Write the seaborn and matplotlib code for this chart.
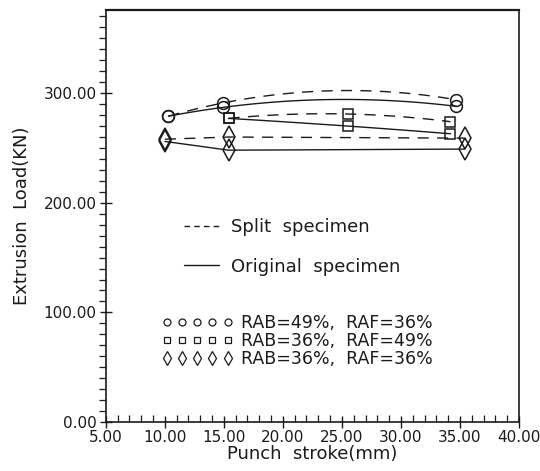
import numpy as np
import pandas as pd
import matplotlib
matplotlib.use("Agg")
import matplotlib.pyplot as plt
from matplotlib.lines import Line2D
from matplotlib.ticker import MultipleLocator, FormatStrFormatter
import seaborn as sns

# Punch stroke (mm) and extrusion load (kN) for the three die geometries
stroke_circle = [10.3, 14.9, 34.7]
load_circle_split = [279, 291, 294]
load_circle_orig = [279, 287, 288]

stroke_square = [15.4, 25.5, 34.2]
load_square_split = [277, 281, 274]
load_square_orig = [277, 270, 263]

stroke_diamond = [10.0, 15.4, 35.4]
load_diamond_split = [258, 260, 259]
load_diamond_orig = [256, 248, 249]

line_labels = ["Split  specimen", "Original  specimen"]
case_labels = ["RAB=49%,  RAF=36%", "RAB=36%,  RAF=49%", "RAB=36%,  RAF=36%"]

x_ticks = [5, 10, 15, 20, 25, 30, 35, 40]
y_ticks = [0, 100, 200, 300]

sns.set_theme(style="ticks")
plt.rcParams["font.family"] = ["DejaVu Sans"]
ink = "#1a1a1a"
plt.rcParams.update({
    "axes.edgecolor": ink, "text.color": ink, "axes.labelcolor": ink,
    "xtick.color": ink, "ytick.color": ink,
})

fig = plt.figure(figsize=(5.4, 4.71), dpi=100)
ax = fig.add_axes([0.196, 0.104, 0.765, 0.875])

lw = 1.0
dash = (0, (8, 6))
# Circles: smooth second-order curves through the points
sns.regplot(x=np.array(stroke_circle), y=np.array(load_circle_split), order=2, ci=None,
            scatter=False, truncate=True, ax=ax,
            line_kws=dict(color=ink, lw=lw, ls=dash))
sns.regplot(x=np.array(stroke_circle), y=np.array(load_circle_orig), order=2, ci=None,
            scatter=False, truncate=True, ax=ax,
            line_kws=dict(color=ink, lw=lw, ls="-"))
# Squares
sns.regplot(x=np.array(stroke_square), y=np.array(load_square_split), order=2, ci=None,
            scatter=False, truncate=True, ax=ax,
            line_kws=dict(color=ink, lw=lw, ls=dash))
sns.regplot(x=np.array(stroke_square), y=np.array(load_square_orig), order=2, ci=None,
            scatter=False, truncate=True, ax=ax,
            line_kws=dict(color=ink, lw=lw, ls="-"))
# Diamonds: straight segments
sns.lineplot(x=stroke_diamond, y=load_diamond_split, ax=ax, color=ink, lw=lw,
             ls=dash, sort=False)
sns.lineplot(x=stroke_diamond, y=load_diamond_orig, ax=ax, color=ink, lw=lw,
             ls="-", sort=False)

mk = dict(ls="none", mfc="none", mec=ink, mew=1.1)
for xs, ys in [(stroke_circle, load_circle_split), (stroke_circle, load_circle_orig)]:
    ax.plot(xs, ys, marker="o", ms=8.5, **mk)
for xs, ys in [(stroke_square, load_square_split), (stroke_square, load_square_orig)]:
    ax.plot(xs, ys, marker="s", ms=6.5, **mk)
for xs, ys in [(stroke_diamond, load_diamond_split), (stroke_diamond, load_diamond_orig)]:
    ax.plot(xs, ys, marker="d", ms=11, **mk)

ax.set_xlim(5, 40)
ax.set_ylim(0, 376)
ax.xaxis.set_minor_locator(MultipleLocator(1))
ax.yaxis.set_minor_locator(MultipleLocator(10))
ax.set_xticks(x_ticks)
ax.set_yticks(y_ticks)
ax.xaxis.set_major_formatter(FormatStrFormatter("%.2f"))
ax.yaxis.set_major_formatter(FormatStrFormatter("%.2f"))
ax.tick_params(axis="x", which="major", direction="inout", length=9, width=1, labelsize=11, pad=1)
ax.tick_params(axis="x", which="minor", direction="in", length=5, width=0.9)
ax.tick_params(axis="y", which="major", direction="inout", length=9, width=1, labelsize=11, pad=2)
ax.tick_params(axis="y", which="minor", direction="out", length=5, width=0.9)
for s in ax.spines.values():
    s.set_linewidth(1.2)
    s.set_visible(True)
ax.spines["top"].set_linewidth(1.6)

ax.set_xlabel("Punch  stroke(mm)", fontsize=13, labelpad=0)
ax.set_ylabel("Extrusion  Load(KN)", fontsize=13, labelpad=9)

style_handles = [Line2D([], [], color=ink, lw=lw, ls=(0, (4, 3))),
                 Line2D([], [], color=ink, lw=lw, ls="-")]
leg1 = ax.legend(style_handles, line_labels, loc="upper left", bbox_to_anchor=(0.19, 0.495),
                 frameon=False, fontsize=13, handlelength=1.9, handletextpad=0.7,
                 labelspacing=1.2, borderpad=0, borderaxespad=0)
ax.add_artist(leg1)

case_handles = [Line2D([], [], ls="none", marker=m, ms=s, mfc="none", mec=ink, mew=0.9)
                for m, s in [("o", 5), ("s", 4.5), ("d", 7)]]
ax.legend(case_handles, case_labels, loc="upper left", bbox_to_anchor=(0.135, 0.262),
          frameon=False, fontsize=12.5, numpoints=5, handlelength=4.1, handletextpad=0.5,
          labelspacing=0.0, borderpad=0, borderaxespad=0)

fig.savefig("out.png", dpi=100, facecolor="white")
